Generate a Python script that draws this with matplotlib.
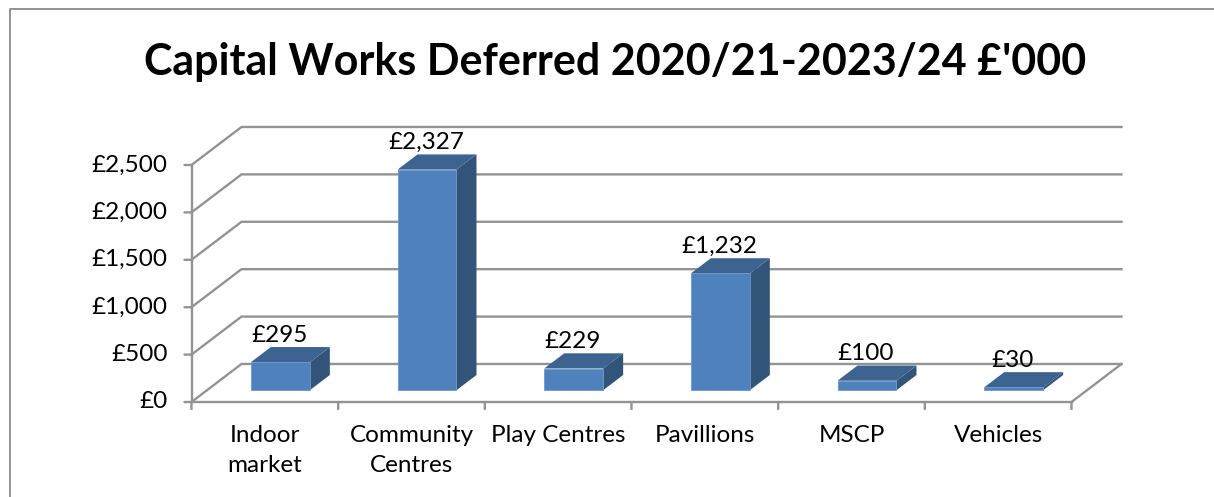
import matplotlib.pyplot as plt
from matplotlib.patches import Polygon

plt.rcParams['font.family'] = ['Lato', 'DejaVu Sans']

categories = ['Indoor\nmarket', 'Community\nCentres', 'Play Centres', 'Pavillions', 'MSCP', 'Vehicles']
values = [295, 2327, 229, 1232, 100, 30]
value_labels = ['£295', '£2,327', '£229', '£1,232', '£100', '£30']
y_ticks = [0, 500, 1000, 1500, 2000, 2500]
y_tick_labels = ['£0', '£500', '£1,000', '£1,500', '£2,000', '£2,500']

GREY = '#939393'
FRONT = '#4f81bd'
TOP = '#3d6390'
SIDE = '#325479'
LABEL_SIZE = 17.5

# oblique projection: depth 1 is the back wall of the box
DEPTH_X = 0.341
DEPTH_Y = 401
BAR_WIDTH = 0.402
BAR_D0 = 0.31
BAR_D1 = 0.71


def project(x, y, d):
    return (x + d * DEPTH_X, y + d * DEPTH_Y)


def draw_bar(ax, x0, x1, v):
    front = [project(x0, 0, BAR_D0), project(x1, 0, BAR_D0), project(x1, v, BAR_D0), project(x0, v, BAR_D0)]
    top = [project(x0, v, BAR_D0), project(x1, v, BAR_D0), project(x1, v, BAR_D1), project(x0, v, BAR_D1)]
    side = [project(x1, 0, BAR_D0), project(x1, 0, BAR_D1), project(x1, v, BAR_D1), project(x1, v, BAR_D0)]
    ax.add_patch(Polygon(side, fc=SIDE, ec='none', clip_on=False, zorder=3))
    ax.add_patch(Polygon(top, fc=TOP, ec='none', clip_on=False, zorder=3))
    ax.add_patch(Polygon(front, fc=FRONT, ec='#6d97cb', lw=0.6, clip_on=False, zorder=4))


fig = plt.figure(figsize=(12.14, 4.97), dpi=100)
ax = fig.add_axes([191.5 / 1214, 95 / 497, 880 / 1214, 237 / 497])
ax.set_xlim(0, 6)
ax.set_ylim(0, 2500)
ax.axis('off')

# gridlines run up the floor edge and along the back wall
n = len(categories)
for t in y_ticks:
    ax.plot(*zip(project(0, t, 0), project(0, t, 1), project(n, t, 1)),
            color=GREY, lw=1.7, clip_on=False, zorder=1, solid_joinstyle='miter')
ax.plot(*zip(project(n, 0, 1), project(n, 0, 0)), color=GREY, lw=1.7, clip_on=False, zorder=1)

# front axes and tick marks
ax.plot([0, 0], [0, 2500], color=GREY, lw=1.7, clip_on=False, zorder=2)
ax.plot([0, n], [0, 0], color=GREY, lw=1.7, clip_on=False, zorder=2)
for t, lab in zip(y_ticks, y_tick_labels):
    ax.annotate('', xy=(0, t), xytext=(-7, 0), textcoords='offset pixels',
                arrowprops=dict(arrowstyle='-', color=GREY, lw=1.7, shrinkA=0, shrinkB=0))
    ax.annotate(lab, xy=(0, t), xytext=(-24, 0), textcoords='offset pixels',
                ha='right', va='center', fontsize=LABEL_SIZE, color='black')
for i in range(n + 1):
    ax.annotate('', xy=(i, 0), xytext=(0, -7), textcoords='offset pixels',
                arrowprops=dict(arrowstyle='-', color=GREY, lw=1.7, shrinkA=0, shrinkB=0))

for i, (cat, v, lab) in enumerate(zip(categories, values, value_labels)):
    x0 = i + 0.5 - BAR_WIDTH / 2
    x1 = i + 0.5 + BAR_WIDTH / 2
    draw_bar(ax, x0, x1, v)
    # the tallest bar's label sits above the axes, so it must not be clipped
    ax.annotate(lab, xy=project(i + 0.5, v, BAR_D1), xytext=(-21, 12), textcoords='offset pixels',
                ha='center', va='center', fontsize=LABEL_SIZE, color='black', zorder=5,
                annotation_clip=False)
    ax.annotate(cat, xy=(i + 0.5, 0), xytext=(0, -23), textcoords='offset pixels',
                ha='center', va='top', fontsize=LABEL_SIZE, color='black', linespacing=1.55)

fig.text(615 / 1214, 1 - 62 / 497, "Capital Works Deferred 2020/21-2023/24 £'000",
         ha='center', va='center', fontsize=31, fontweight='bold', color='black')

# chart frame, cut off by the bottom and right edges of the image
fig.add_artist(plt.Line2D([9.5 / 1214, 9.5 / 1214, 1], [0, 1 - 8.5 / 497, 1 - 8.5 / 497],
                          color=GREY, lw=1.4))

fig.savefig('out.png', dpi=100)
